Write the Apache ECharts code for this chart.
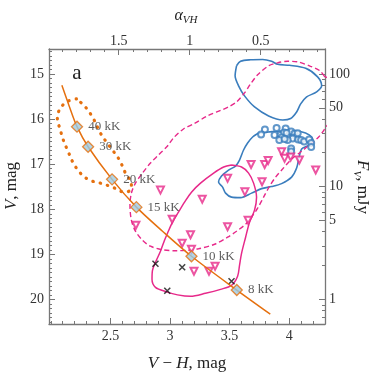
<!DOCTYPE html>
<html><head><meta charset="utf-8">
<script src="https://cdn.jsdelivr.net/npm/echarts@6/dist/echarts.min.js"></script>
<style>html,body{margin:0;padding:0;background:#fff}#c{width:374px;height:374px}</style>
</head><body><div id="c"></div>
<script>
// ---- axes ----
const X_RANGE = [1.985, 4.30];
const V_RANGE = [14.45, 20.54];
const xTickLabels = [2.5, 3, 3.5, 4];
const vTickLabels = [15, 16, 17, 18, 19, 20];
const alphaTickLabels = [1.5, 1, 0.5];
const fluxTickLabels = [1, 5, 10, 50, 100];
const fluxMinorTicks = [0.7, 0.8, 0.9, 2, 3, 4, 6, 7, 8, 9, 20, 30, 40, 60, 70, 80, 90];

// ---- blackbody track ----
const trackX = [2.093, 2.151, 2.220, 2.313, 2.514, 2.718, 2.937, 3.180, 3.560, 3.841];
const trackV = [15.255, 15.688, 16.170, 16.614, 17.337, 17.952, 18.485, 19.040, 19.788, 20.321];
const tempLabels = ['40 kK', '30 kK', '20 kK', '15 kK', '10 kK', '8 kK'];
const tempX = [2.220, 2.313, 2.514, 2.718, 3.180, 3.560];
const tempV = [16.170, 16.614, 17.337, 17.952, 19.040, 19.788];

// ---- orange dotted contour ----
const dotX = [2.215, 2.131, 2.072, 2.055, 2.080, 2.105, 2.147, 2.189, 2.248, 2.324, 2.416, 2.517, 2.618, 2.668, 2.676, 2.626, 2.576, 2.517, 2.466, 2.416, 2.349, 2.282];
const dotV = [15.555, 15.622, 15.799, 15.977, 16.243, 16.465, 16.731, 16.976, 17.198, 17.353, 17.420, 17.509, 17.620, 17.575, 17.442, 17.198, 16.909, 16.687, 16.509, 16.310, 15.954, 15.710];

// ---- magenta dashed contour ----
const dashX = [4.297, 4.255, 4.179, 4.070, 3.986, 3.902, 3.827, 3.735, 3.676, 3.625, 3.558, 3.491, 3.424, 3.315, 3.197, 3.113, 3.029, 2.979, 2.903, 2.836, 2.769, 2.710, 2.676, 2.664, 2.676, 2.710, 2.769, 2.836, 2.937, 3.046, 3.147, 3.239, 3.374, 3.483, 3.558, 3.634, 3.684, 3.735, 3.785, 3.835, 3.886, 3.944, 4.020, 4.096, 4.179, 4.247, 4.297, 4.390, 4.390];
const dashV = [15.060, 14.927, 14.834, 14.734, 14.722, 14.756, 14.822, 15.022, 15.222, 15.422, 15.622, 15.733, 15.810, 15.932, 16.110, 16.221, 16.421, 16.598, 16.798, 16.976, 17.198, 17.420, 17.642, 17.908, 18.241, 18.485, 18.685, 18.818, 18.896, 18.918, 18.907, 18.874, 18.774, 18.618, 18.485, 18.330, 18.175, 17.975, 17.731, 17.487, 17.287, 17.109, 16.887, 16.731, 16.554, 16.399, 16.221, 15.799, 15.244];

// ---- magenta solid contour ----
const solidX = [3.516, 3.600, 3.659, 3.701, 3.726, 3.709, 3.667, 3.634, 3.600, 3.583, 3.567, 3.516, 3.424, 3.298, 3.172, 3.063, 2.970, 2.878, 2.849, 2.853, 2.878, 2.920, 2.954, 2.979, 3.021, 3.071, 3.122, 3.180, 3.256, 3.366, 3.450];
const solidV = [17.020, 17.064, 17.198, 17.420, 17.731, 18.019, 18.285, 18.618, 18.974, 19.240, 19.484, 19.684, 19.773, 19.861, 19.928, 19.895, 19.828, 19.728, 19.551, 19.351, 19.173, 18.929, 18.685, 18.530, 18.285, 18.063, 17.842, 17.620, 17.420, 17.198, 17.064];

// ---- blue contours ----
const blueUpX = [3.558, 3.592, 3.676, 3.777, 3.852, 3.903, 4.003, 4.138, 4.238, 4.272, 4.230, 4.146, 4.096, 4.062, 4.012, 3.945, 3.827, 3.709, 3.625, 3.575, 3.546];
const blueUpV = [14.822, 14.722, 14.689, 14.683, 14.722, 14.789, 14.811, 14.878, 15.067, 15.266, 15.400, 15.511, 15.666, 15.844, 15.988, 16.021, 15.932, 15.733, 15.488, 15.266, 15.044];
const blueLoX = [3.743, 3.693, 3.651, 3.617, 3.583, 3.550, 3.491, 3.432, 3.407, 3.441, 3.466, 3.516, 3.592, 3.684, 3.768, 3.852, 3.936, 4.020, 4.062, 4.083, 4.104, 4.154, 4.204, 4.188, 4.137, 4.053, 3.927, 3.827];
const blueLoV = [16.310, 16.399, 16.532, 16.687, 16.909, 17.042, 17.131, 17.264, 17.398, 17.509, 17.642, 17.731, 17.742, 17.642, 17.542, 17.497, 17.431, 17.287, 17.087, 16.843, 16.665, 16.598, 16.532, 16.399, 16.310, 16.265, 16.265, 16.288];

// ---- points ----
const circX = [3.796, 3.764, 3.894, 3.970, 3.877, 3.927, 3.957, 3.987, 4.016, 4.045, 4.058, 4.029, 3.987, 3.936, 4.075, 4.100, 4.125, 4.167, 4.184, 4.184, 4.016, 4.016, 3.917, 4.071, 3.978, 3.961];
const circV = [16.232, 16.343, 16.199, 16.210, 16.354, 16.354, 16.299, 16.387, 16.277, 16.321, 16.399, 16.432, 16.465, 16.410, 16.454, 16.465, 16.498, 16.454, 16.532, 16.620, 16.654, 16.720, 16.465, 16.316, 16.310, 16.443];
const triX = [2.920, 3.270, 3.018, 2.714, 3.172, 3.102, 3.180, 3.201, 3.327, 3.378, 3.483, 3.483, 3.655, 3.628, 3.772, 3.680, 3.794, 3.823, 3.936, 3.961, 4.012, 4.085, 4.222];
const triV = [17.575, 17.775, 18.219, 18.352, 18.563, 18.752, 18.885, 19.373, 19.373, 19.262, 18.385, 17.315, 18.241, 17.613, 17.391, 17.009, 17.009, 16.920, 16.725, 16.871, 16.843, 16.909, 17.131];
const crossX = [2.878, 3.102, 2.977, 3.516];
const crossV = [19.206, 19.284, 19.802, 19.595];

// ---- helpers ----
const zip = (xs, ys) => xs.map((x, i) => [x, ys[i]]);
const closed = (xs, ys) => { const d = zip(xs, ys); d.push(d[0]); return d; };
const range = (a, b, s) => { const r = []; for (let k = Math.round(a / s); k * s <= b + 1e-9; k++) r.push(+(k * s).toFixed(4)); return r; };
const alphaOf = vh => 3.6586 - 0.84 * vh;
const vhOf = a => (3.6586 - a) / 0.84;
const fluxOf = v => Math.pow(10, -0.4 * (v - 20));
const vOf = f => 20 - 2.5 * Math.log10(f);
const inX = v => v >= X_RANGE[0] && v <= X_RANGE[1];
const inV = v => v >= V_RANGE[0] && v <= V_RANGE[1];

const SERIF = "'Liberation Serif', 'DejaVu Serif', serif";
const AX = '#777';
const ORANGE = '#e5700f', MAG = '#e7298a', BLUE = '#3a7dbd';

const xMinor = range(2.0, 4.3, 0.1).filter(inX);
const aMinor = range(0.1, 1.9, 0.1).map(vhOf).filter(inX);
const vMinor = range(14.5, 20.5, 0.1).filter(inV);
const fMinor = fluxMinorTicks.map(vOf).filter(inV);

function xAx(pos, majorVals, tickLen, showLabel, fmt, showLine, margin) {
  return {
    type: 'value', position: pos, min: X_RANGE[0], max: X_RANGE[1], gridIndex: 0,
    axisLine: { show: showLine, onZero: false, lineStyle: { color: AX, width: 1.3 } },
    axisTick: { show: true, inside: true, length: tickLen, customValues: majorVals, lineStyle: { color: AX, width: 1 } },
    axisLabel: showLabel ? { show: true, customValues: majorVals, formatter: fmt, fontFamily: SERIF, fontSize: 14, color: '#333', margin: margin } : { show: false },
    splitLine: { show: false }
  };
}
function yAx(pos, majorVals, tickLen, showLabel, fmt, showLine, margin) {
  return {
    type: 'value', position: pos, min: V_RANGE[0], max: V_RANGE[1], inverse: true, gridIndex: 0,
    axisLine: { show: showLine, onZero: false, lineStyle: { color: AX, width: 1.3 } },
    axisTick: { show: true, inside: true, length: tickLen, customValues: majorVals, lineStyle: { color: AX, width: 1 } },
    axisLabel: showLabel ? { show: true, customValues: majorVals, formatter: fmt, fontFamily: SERIF, fontSize: 14, color: '#333', margin: margin } : { show: false },
    splitLine: { show: false }
  };
}

const chart = echarts.init(document.getElementById('c'), null, { renderer: 'canvas' });
chart.setOption({
  animation: false,
  backgroundColor: '#fff',
  grid: { left: 49, right: 49, top: 49, bottom: 50 },
  xAxis: [
    xAx('bottom', xTickLabels, 6, true, v => String(+(+v).toFixed(2)), true, 5),
    xAx('bottom', xMinor, 3, false, null, false),
    xAx('top', alphaTickLabels.map(vhOf), 6, true, v => String(Math.round(alphaOf(v) * 10) / 10), true, 1),
    xAx('top', aMinor, 3, false, null, false)
  ],
  yAxis: [
    yAx('left', vTickLabels, 6, true, v => String(Math.round(v)), true, 5),
    yAx('left', vMinor, 3, false, null, false),
    yAx('right', fluxTickLabels.map(vOf), 6, true, v => String(Math.round(fluxOf(v))), true, 4),
    yAx('right', fMinor, 3, false, null, false)
  ],
  series: [
    { type: 'line', data: closed(blueUpX, blueUpV), showSymbol: false, smooth: 0.3, lineStyle: { color: BLUE, width: 1.6 }, silent: true, z: 2 },
    { type: 'line', data: closed(blueLoX, blueLoV), showSymbol: false, smooth: 0.3, lineStyle: { color: BLUE, width: 1.6 }, silent: true, z: 2 },
    { type: 'line', data: closed(dashX, dashV), showSymbol: false, smooth: 0.3, lineStyle: { color: MAG, width: 1.4, type: [5, 3] }, silent: true, z: 2 },
    { type: 'line', data: closed(solidX, solidV), showSymbol: false, smooth: 0.3, lineStyle: { color: MAG, width: 1.5 }, silent: true, z: 2 },
    { type: 'line', data: closed(dotX, dotV), showSymbol: false, smooth: 0.35, lineStyle: { color: ORANGE, width: 3.2, type: [0.5, 7], cap: 'round' }, silent: true, z: 2 },
    { type: 'scatter', data: zip(circX, circV), symbol: 'emptyCircle', symbolSize: 6, itemStyle: { color: BLUE, borderWidth: 1.2 }, z: 3 },
    { type: 'scatter', data: zip(triX, triV), symbol: 'emptyTriangle', symbolRotate: 180, symbolSize: 7, itemStyle: { color: MAG, borderWidth: 1.2 }, z: 3 },
    { type: 'scatter', data: zip(crossX, crossV), symbol: 'path://M0,0L10,10M0,10L10,0', symbolSize: 6, itemStyle: { color: 'none', borderColor: '#111', borderWidth: 1.5 }, z: 3 },
    { type: 'line', data: zip(trackX, trackV), showSymbol: false, smooth: 0.3, lineStyle: { color: ORANGE, width: 1.5 }, silent: true, z: 4 },
    { type: 'scatter', data: zip(tempX, tempV), symbol: 'diamond', symbolSize: 11, itemStyle: { color: '#9ecae1', borderColor: ORANGE, borderWidth: 1.3 }, z: 5,
      label: { show: true, position: 'right', distance: 5, formatter: p => tempLabels[p.dataIndex], fontFamily: SERIF, fontSize: 13, color: '#333' } }
  ],
  graphic: [
    { type: 'text', x: 187, y: 364, style: { text: '{i|V} − {i|H}, mag', align: 'center', verticalAlign: 'middle', fontFamily: SERIF, fontSize: 17, fill: '#222',
      rich: { i: { fontStyle: 'italic', fontFamily: SERIF, fontSize: 17 } } } },
    { type: 'text', x: 12, y: 186, rotation: Math.PI / 2, style: { text: '{i|V}, mag', align: 'center', verticalAlign: 'middle', fontFamily: SERIF, fontSize: 17, fill: '#222',
      rich: { i: { fontStyle: 'italic', fontFamily: SERIF, fontSize: 17 } } } },
    { type: 'text', x: 362, y: 187, rotation: -Math.PI / 2, style: { text: '{i|F}{s|V}{n|, mJy}', align: 'center', verticalAlign: 'middle', fill: '#222',
      rich: { i: { fontStyle: 'italic', fontFamily: SERIF, fontSize: 17, lineHeight: 22, verticalAlign: 'middle' },
              s: { fontStyle: 'italic', fontFamily: SERIF, fontSize: 11, lineHeight: 11, verticalAlign: 'bottom' },
              n: { fontFamily: SERIF, fontSize: 17, lineHeight: 22, verticalAlign: 'middle' } } } },
    { type: 'text', x: 186, y: 16, style: { text: '{i|α}{s|VH}', align: 'center', verticalAlign: 'middle', fill: '#222',
      rich: { i: { fontStyle: 'italic', fontFamily: SERIF, fontSize: 16, lineHeight: 20, verticalAlign: 'middle' },
              s: { fontStyle: 'italic', fontFamily: SERIF, fontSize: 11, lineHeight: 11, verticalAlign: 'bottom' } } } },
    { type: 'text', x: 77, y: 73, style: { text: 'a', align: 'center', verticalAlign: 'middle', fontFamily: SERIF, fontSize: 21, fill: '#222' } }
  ]
});
</script></body></html>
